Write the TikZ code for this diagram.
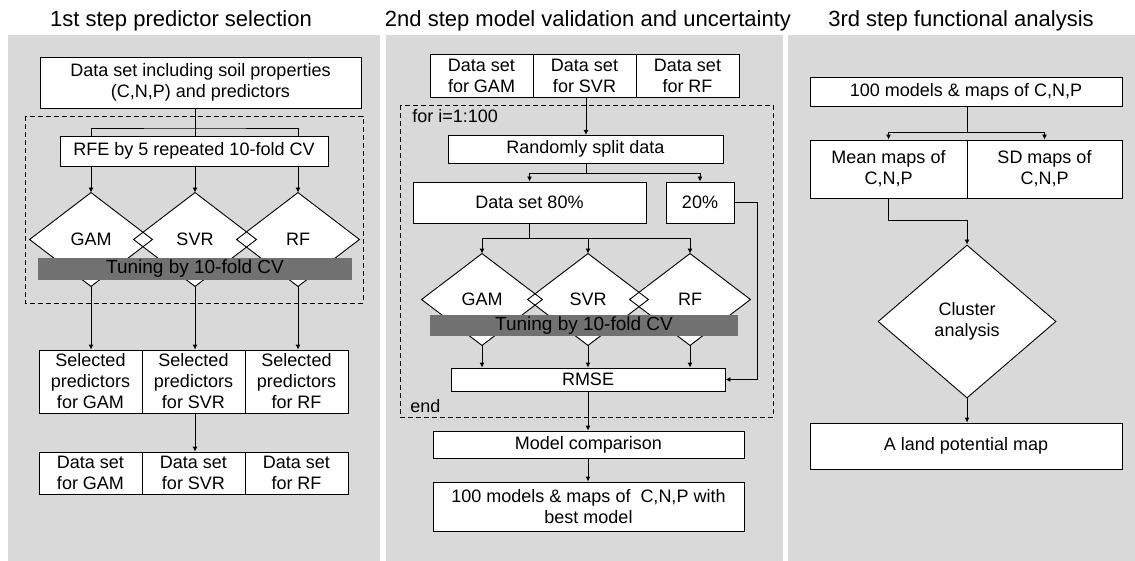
\documentclass[tikz,border=0pt]{standalone}
\usepackage{fontspec}
\setmainfont{Liberation Sans}
\usetikzlibrary{shapes.geometric,arrows.meta}
\definecolor{panelgray}{HTML}{D9D9D9}
\definecolor{bargray}{HTML}{717171}
\newcommand{\boxfont}{\fontsize{18}{21}\selectfont}
\newcommand{\barfont}{\fontsize{19}{21}\selectfont}
\newcommand{\titlefont}{\fontsize{22}{26}\selectfont}
\tikzset{
  box/.style={draw, fill=white, inner sep=0pt, align=center, font=\boxfont},
  diam/.style={diamond, fill=white, inner sep=0pt, align=center, font=\boxfont},
  tuning/.style={fill=bargray, inner sep=0pt, font=\barfont},
  looplabel/.style={anchor=base west, inner sep=0pt, font=\boxfont},
  looprect/.style={dash pattern=on 5pt off 3pt},
  title/.style={anchor=base, inner sep=0pt, font=\titlefont}
}
\begin{document}
\begin{tikzpicture}[x=1pt, y=-1pt, line width=0.9pt, >={Latex[length=5pt,width=5pt]}]
    \useasboundingbox (0,0) rectangle (1135,561);
    % panels
    \fill[panelgray] (8,35) rectangle (380,561);
    \fill[panelgray] (386,35) rectangle (783,561);
    \fill[panelgray] (788,35) rectangle (1135,561);
    \node[title] (t1) at (181,27) {1st step predictor selection};
    \node[title] (t2) at (588,27) {2nd step model validation and uncertainty};
    \node[title] (t3) at (961,27) {3rd step functional analysis};
    \draw[looprect] (25,116) rectangle (363,303);
    \draw[looprect] (400,105) rectangle (773,417);

    % 1st step
    \node[box, minimum width=321pt, minimum height=51pt] (a0) at (200.5,82.5) {Data set including soil properties\\(C,N,P) and predictors};
    \node[box, minimum width=268pt, minimum height=30pt] (a1) at (194,151) {RFE by 5 repeated 10-fold CV};
    \node[diam, minimum width=122pt, minimum height=93pt] (a2) at (91,239.5) {GAM};
    \node[diam, minimum width=122pt, minimum height=93pt] (a3) at (195,239.5) {SVR};
    \node[diam, minimum width=122pt, minimum height=93pt] (a4) at (298,239.5) {RF};
    \foreach \n in {a2,a3,a4}
        \draw (\n.north) -- (\n.east) -- (\n.south) -- (\n.west) -- cycle;
    \node[tuning, minimum width=314pt, minimum height=22pt] (a5) at (195,269) {Tuning by 10-fold CV};
    \node[box, minimum width=103pt, minimum height=63pt] (a6) at (90.5,381.5) {Selected\\predictors\\for GAM};
    \node[box, minimum width=103pt, minimum height=63pt] (a7) at (193.5,381.5) {Selected\\predictors\\for SVR};
    \node[box, minimum width=103pt, minimum height=63pt] (a8) at (296.5,381.5) {Selected\\predictors\\for RF};
    \node[box, minimum width=103pt, minimum height=42pt] (a9) at (90.5,473) {Data set\\for GAM};
    \node[box, minimum width=103pt, minimum height=42pt] (a10) at (193.5,473) {Data set\\for SVR};
    \node[box, minimum width=103pt, minimum height=42pt] (a11) at (296.5,473) {Data set\\for RF};
    \coordinate (a1f) at (195,128);
    \draw (a1f |- a0.south) -- (a1f |- a1.north);
    \draw (a2 |- a1.north) |- (a1f) -| (a4 |- a1.north);
    \foreach \n in {a2,a3,a4}
        \draw[->] (\n |- a1.south) -- (\n.north);
    \foreach \n in {a2,a3,a4}
        \draw[->] (\n.south) -- (\n.south |- a6.north);
    \draw[->] (a3.south |- a7.south) -- (a3.south |- a10.north);

    % 2nd step
    \node[box, minimum width=103pt, minimum height=43pt] (b0) at (481.5,75.5) {Data set\\for GAM};
    \node[box, minimum width=103pt, minimum height=43pt] (b1) at (584.5,75.5) {Data set\\for SVR};
    \node[box, minimum width=103pt, minimum height=43pt] (b2) at (687.5,75.5) {Data set\\for RF};
    \node[looplabel] (bfor) at (412,123) {for i=1:100};
    \node[looplabel] (bend) at (410,412) {end};
    \node[box, minimum width=275pt, minimum height=28pt] (b3) at (585.5,149) {Randomly split data};
    \node[box, minimum width=233pt, minimum height=41pt] (b4) at (529.5,202.5) {Data set 80\%};
    \node[box, minimum width=68pt, minimum height=41pt] (b5) at (700,202.5) {20\%};
    \node[diam, minimum width=120pt, minimum height=91pt] (b6) at (482,299.5) {GAM};
    \node[diam, minimum width=120pt, minimum height=91pt] (b7) at (588,299.5) {SVR};
    \node[diam, minimum width=120pt, minimum height=91pt] (b8) at (690,299.5) {RF};
    \foreach \n in {b6,b7,b8}
        \draw (\n.north) -- (\n.east) -- (\n.south) -- (\n.west) -- cycle;
    \node[tuning, minimum width=308pt, minimum height=21pt] (b9) at (584,325.5) {Tuning by 10-fold CV};
    \node[box, minimum width=274pt, minimum height=23pt] (b10) at (588,379.5) {RMSE};
    \node[box, minimum width=311pt, minimum height=27pt] (b11) at (588.5,444.5) {Model comparison};
    \node[box, minimum width=311pt, minimum height=49pt] (b12) at (588.5,506.5) {100 models \& maps of~~C,N,P with\\best model};
    \draw[->] (586,97) -- (586,135);
    \coordinate (b3f) at (586,173);
    \draw (b3f |- b3.south) -- (b3f);
    \draw[->] (b3f) -| (b4.north);
    \draw[->] (b3f) -| (b5.north);
    \coordinate (b4f) at (b4.south |- 0,238);
    \draw (b4.south) -- (b4f);
    \foreach \n in {b6,b7,b8}
        \draw[->] (b4f) -| (\n.north);
    \foreach \n in {b6,b7,b8}
        \draw[->] (\n.south) -- (\n.south |- b10.north);
    \draw[->] (b5.east) -- ++(23,0) |- (b10.east);
    \draw[->] (b10.south) -- (b10.south |- b11.north);
    \draw[->] (b10.south |- b11.south) -- (b10.south |- b12.north);

    % 3rd step
    \node[box, minimum width=312pt, minimum height=29pt] (c0) at (966,91.5) {100 models \& maps of C,N,P};
    \node[box, minimum width=157pt, minimum height=58pt] (c1) at (888.5,169) {Mean maps of\\C,N,P};
    \node[box, minimum width=155pt, minimum height=58pt] (c2) at (1044.5,169) {SD maps of\\C,N,P};
    \node[diam, draw, minimum width=178pt, minimum height=153pt] (c3) at (967,321.5) {Cluster\\analysis};
    \node[box, minimum width=312pt, minimum height=46pt] (c4) at (966,446) {A land potential map};
    \coordinate (c0f) at (967,132);
    \coordinate (c1f) at (967,220);
    \draw (c0f |- c0.south) -- (c0f);
    \draw[->] (c0f) -| (c1.north);
    \draw[->] (c0f) -| (c2.north);
    \draw[->] (c1.south) |- (c1f) -- (c3.north);
    \draw[->] (c3.south) -- (c3.south |- c4.north);
\end{tikzpicture}
\end{document}
